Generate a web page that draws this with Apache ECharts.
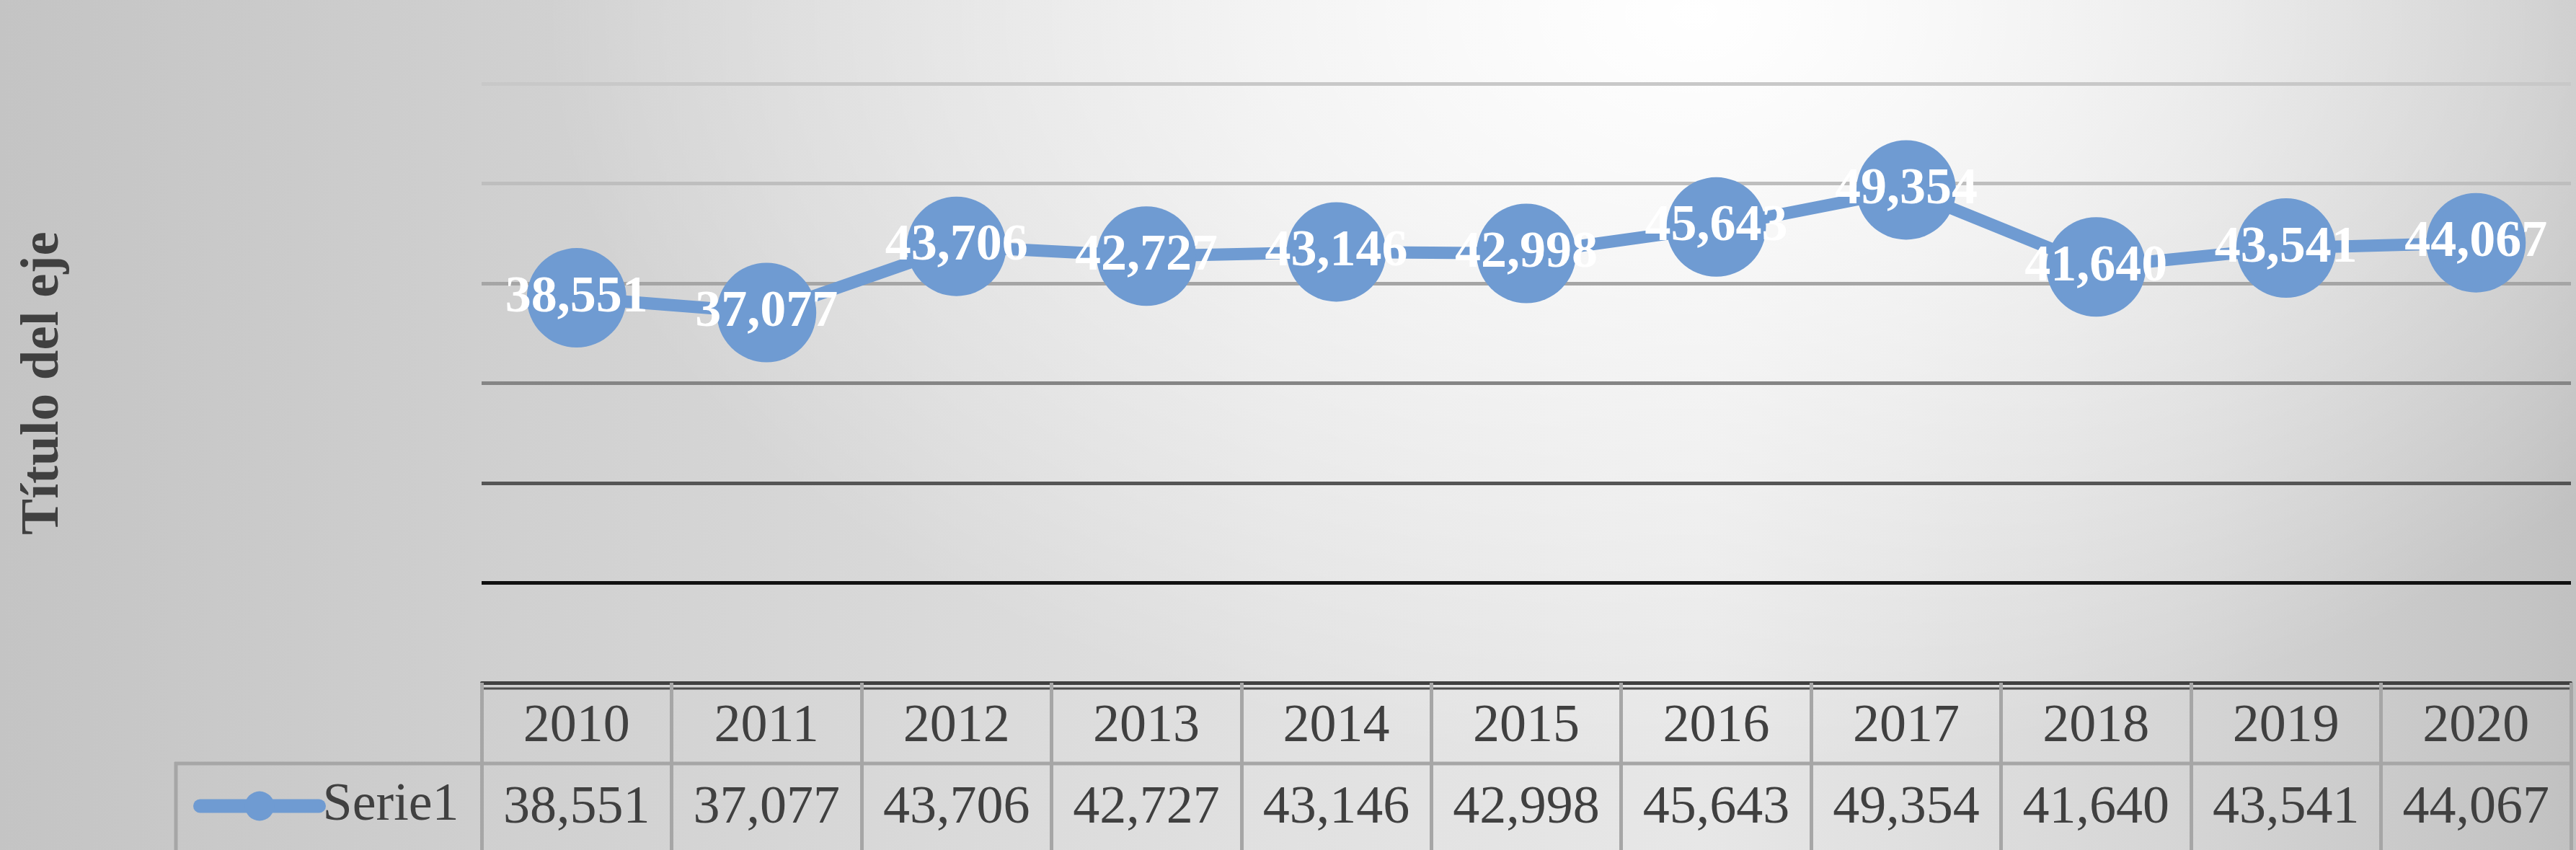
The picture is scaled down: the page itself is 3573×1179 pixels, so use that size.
<!DOCTYPE html>
<html>
<head>
<meta charset="utf-8">
<title>Serie1</title>
<script src="https://cdn.jsdelivr.net/npm/echarts@6/dist/echarts.min.js"></script>
<style>
  html, body { margin: 0; padding: 0; }
  #main {
    width: 3573px;
    height: 1179px;
    /* fondo degradado tipo Excel: brillo arriba al centro-derecha */
    background:
      radial-gradient(ellipse 1600px 1050px at 2350px 20px, rgba(255,255,255,1) 0%, rgba(255,255,255,0.6) 40%, rgba(255,255,255,0) 100%),
      linear-gradient(to right, #c4c4c4 0%, #d3d3d3 25%, #e1e1e1 50%, #e7e7e7 66%, #d6d6d6 84%, #c1c1c1 100%);
  }
</style>
</head>
<body>
<div id="main"></div>
<script>
// datos
const years = ['2010', '2011', '2012', '2013', '2014', '2015', '2016', '2017', '2018', '2019', '2020'];
const serie1 = [38551, 37077, 43706, 42727, 43146, 42998, 45643, 49354, 41640, 43541, 44067];
const yMin = 0;
const yMax = 60000;
const yStep = 10000;

const serif = "'Liberation Serif', 'Times New Roman', serif";
const lineColor = '#6f9bd2';
const textColor = '#404040';
// colores de las lineas de division, de abajo hacia arriba
const gridColors = ['#404040', '#111111', '#555555', '#858585', '#a5a5a5', '#bebebe', '#c8c8c8'];

const fmt = v => v.toLocaleString('en-US');

let container = document.getElementById('main');
var myChart = echarts.init(container);

myChart.setOption({
  backgroundColor: 'transparent',
  grid: {
    left: 668,
    right: 7,
    top: 116,
    bottom: 232
  },
  legend: {
    data: ['Serie1'],
    left: 268,
    top: 1081,
    padding: 0,
    itemWidth: 165,
    itemHeight: 51,
    lineStyle: { width: 19, cap: 'round' },
    textStyle: { fontFamily: serif, fontSize: 74, color: textColor }
  },
  xAxis: {
    type: 'category',
    data: years,
    boundaryGap: true,
    axisLine: { lineStyle: { color: '#404040', width: 4 } },
    axisTick: {
      show: true,
      interval: 0,
      length: 232,
      lineStyle: { color: '#a6a6a6', width: 5 }
    },
    axisLabel: {
      interval: 0,
      margin: 5,
      formatter: (v, i) => '{y|' + v + '}\n{v|' + fmt(serie1[i]) + '}',
      rich: {
        y: { fontFamily: serif, fontSize: 74, color: textColor, lineHeight: 113 },
        v: { fontFamily: serif, fontSize: 74, color: textColor, lineHeight: 113 }
      }
    }
  },
  yAxis: {
    type: 'value',
    min: yMin,
    max: yMax,
    interval: yStep,
    name: 'Título del eje',
    nameLocation: 'middle',
    nameRotate: 90,
    nameGap: 570,
    nameTextStyle: { fontFamily: serif, fontSize: 75, fontWeight: 'bold', color: textColor },
    axisLine: { show: false },
    axisTick: { show: false },
    axisLabel: { show: false },
    splitLine: { lineStyle: { color: gridColors, width: 5 } }
  },
  series: [
    {
      name: 'Serie1',
      type: 'line',
      data: serie1,
      symbol: 'circle',
      symbolSize: 138,
      lineStyle: { color: lineColor, width: 17 },
      itemStyle: { color: lineColor },
      label: {
        show: true,
        position: 'inside',
        formatter: p => fmt(p.value),
        fontFamily: serif,
        fontSize: 72,
        fontWeight: 'bold',
        color: '#ffffff'
      },
      animation: false
    }
  ],
  // bordes de la tabla de datos
  graphic: [
    { type: 'line', shape: { x1: 668, y1: 955, x2: 3566, y2: 955 }, style: { stroke: '#4d4d4d', lineWidth: 3 } },
    { type: 'line', shape: { x1: 242, y1: 1059, x2: 3568, y2: 1059 }, style: { stroke: '#a6a6a6', lineWidth: 5 } },
    { type: 'line', shape: { x1: 244, y1: 1057, x2: 244, y2: 1179 }, style: { stroke: '#a6a6a6', lineWidth: 5 } }
  ]
});

let resizeObserver = new ResizeObserver(() => myChart?.resize());
resizeObserver.observe(container);
</script>
</body>
</html>
